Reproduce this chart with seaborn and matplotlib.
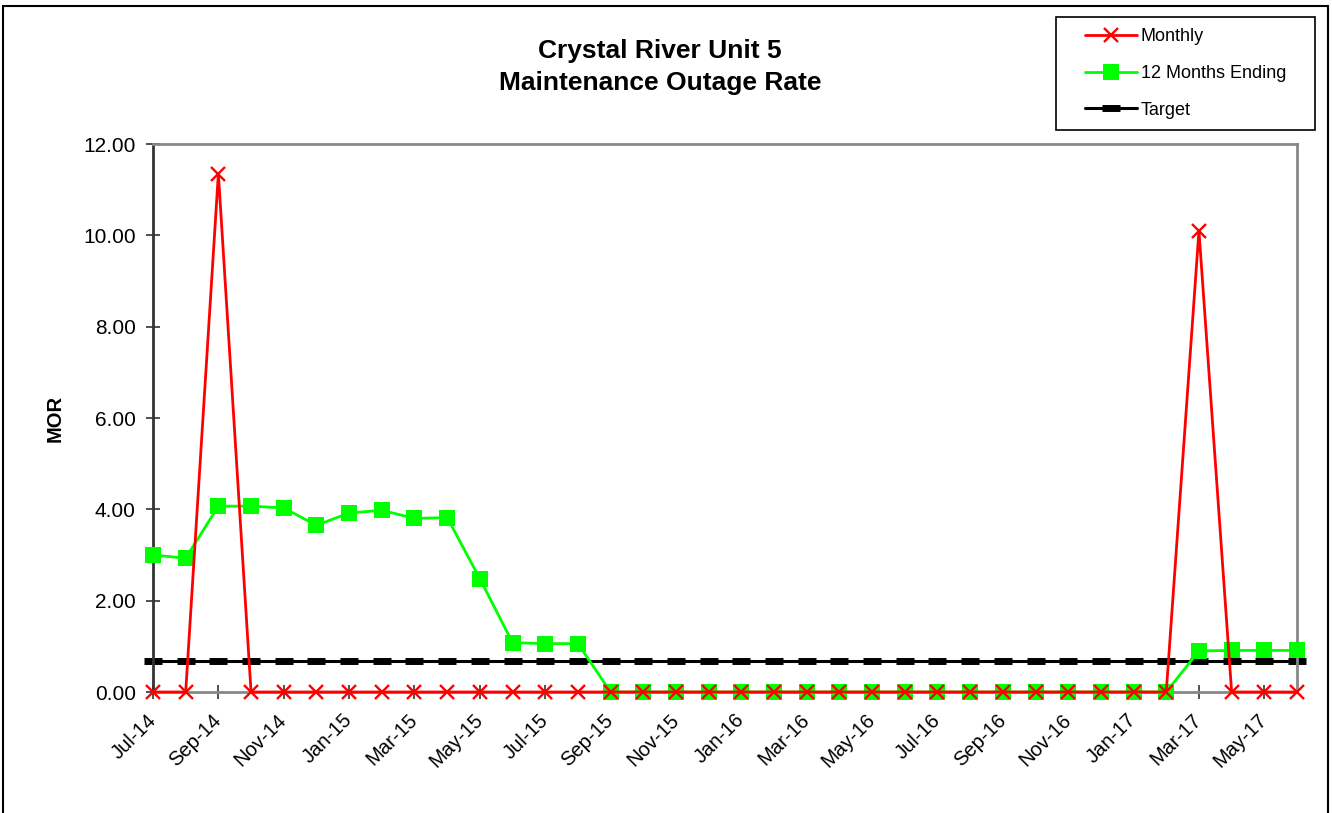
import matplotlib
matplotlib.use("Agg")
import matplotlib.pyplot as plt
from matplotlib.patches import Rectangle
import numpy as np
import pandas as pd
import seaborn as sns

months = ["Jul-14", "Aug-14", "Sep-14", "Oct-14", "Nov-14", "Dec-14",
          "Jan-15", "Feb-15", "Mar-15", "Apr-15", "May-15", "Jun-15",
          "Jul-15", "Aug-15", "Sep-15", "Oct-15", "Nov-15", "Dec-15",
          "Jan-16", "Feb-16", "Mar-16", "Apr-16", "May-16", "Jun-16",
          "Jul-16", "Aug-16", "Sep-16", "Oct-16", "Nov-16", "Dec-16",
          "Jan-17", "Feb-17", "Mar-17", "Apr-17", "May-17", "Jun-17"]

monthly = [0, 0, 11.35, 0, 0, 0, 0, 0, 0, 0, 0, 0,
           0, 0, 0, 0, 0, 0, 0, 0, 0, 0, 0, 0,
           0, 0, 0, 0, 0, 0, 0, 0, 10.10, 0, 0, 0]

twelve_month = [3.00, 2.93, 4.07, 4.07, 4.03, 3.65, 3.92, 3.98, 3.80, 3.82, 2.48, 1.08,
                1.06, 1.06, 0, 0, 0, 0, 0, 0, 0, 0, 0, 0,
                0, 0, 0, 0, 0, 0, 0, 0, 0.90, 0.91, 0.91, 0.91]

target = [0.68] * len(months)

df = pd.DataFrame({"pos": np.arange(len(months)), "month": months,
                   "Monthly": monthly, "12 Months Ending": twelve_month,
                   "Target": target})

sns.set_style("white")
plt.rcParams["font.family"] = ["Liberation Sans", "DejaVu Sans"]
plt.rcParams["text.color"] = "black"
plt.rcParams["axes.labelcolor"] = "black"

W, H = 1332, 813
fig = plt.figure(figsize=(W / 100, H / 100), dpi=100)
ax = fig.add_axes([153 / W, 1 - 692 / H, (1297 - 153) / W, (692 - 144) / H])

sns.lineplot(data=df, x="pos", y="Target", ax=ax, color="black", lw=2.2,
             marker="_", markersize=13, markeredgewidth=5, markeredgecolor="black",
             label="Target", zorder=2, clip_on=False)
sns.lineplot(data=df, x="pos", y="12 Months Ending", ax=ax, color="#00ff00", lw=2,
             marker="s", markersize=11.5, markeredgewidth=0, markerfacecolor="#00ff00",
             label="12 Months Ending", zorder=3, clip_on=False)
sns.lineplot(data=df, x="pos", y="Monthly", ax=ax, color="red", lw=2,
             marker="x", markersize=10.5, markeredgewidth=1.7, markeredgecolor="red",
             label="Monthly", zorder=4, clip_on=False)

ax.set_xlim(0, len(months) - 1)
ax.set_ylim(0, 12)
ax.set_yticks(np.arange(0, 12.01, 2))
ax.set_yticklabels([f"{v:.2f}" for v in np.arange(0, 12.01, 2)], fontsize=15)
ax.set_xticks(df["pos"][::2])
ax.set_xticklabels(df["month"][::2], rotation=45, ha="right", va="center",
                   rotation_mode="anchor", fontsize=14.5)
ax.tick_params(axis="both", direction="inout", length=10, width=1.2,
               colors="#333333", labelcolor="black", bottom=True, left=True)
ax.tick_params(axis="x", pad=13)
ax.tick_params(axis="y", pad=7.5)
ax.set_xlabel("")
ax.set_ylabel("MOR", fontsize=14.5, fontweight="bold", labelpad=13)

for side in ["top", "right", "bottom"]:
    ax.spines[side].set_color("#888888")
    ax.spines[side].set_linewidth(2)
ax.spines["left"].set_color("#333333")
ax.spines["left"].set_linewidth(2)

ax.get_legend().remove()

fig.text(660 / W, 1 - 67 / H, "Crystal River Unit 5\nMaintenance Outage Rate",
         ha="center", va="center", fontsize=19, fontweight="bold", linespacing=1.4)

# legend, entries in the reference order
handles, labels = ax.get_legend_handles_labels()
order = [labels.index(n) for n in ["Monthly", "12 Months Ending", "Target"]]
leg = fig.legend([handles[i] for i in order], [labels[i] for i in order],
                 loc="upper left", bbox_to_anchor=(1085 / W, 1 - 28 / H),
                 frameon=False, fontsize=13, handlelength=2.9, handletextpad=0.2,
                 labelspacing=1.1, borderaxespad=0, borderpad=0)
fig.patches.append(Rectangle((1056 / W, 1 - 130 / H), (1315 - 1056) / W, (130 - 17) / H,
                             transform=fig.transFigure, fill=False, edgecolor="black",
                             lw=1.2))

# outer frame of the chart
fig.patches.append(Rectangle((3 / W, -0.05), (1328 - 3) / W, 1.05 - 6 / H,
                             transform=fig.transFigure, fill=False, edgecolor="black",
                             lw=1.5, clip_on=False))

fig.savefig("out.png", dpi=100)
